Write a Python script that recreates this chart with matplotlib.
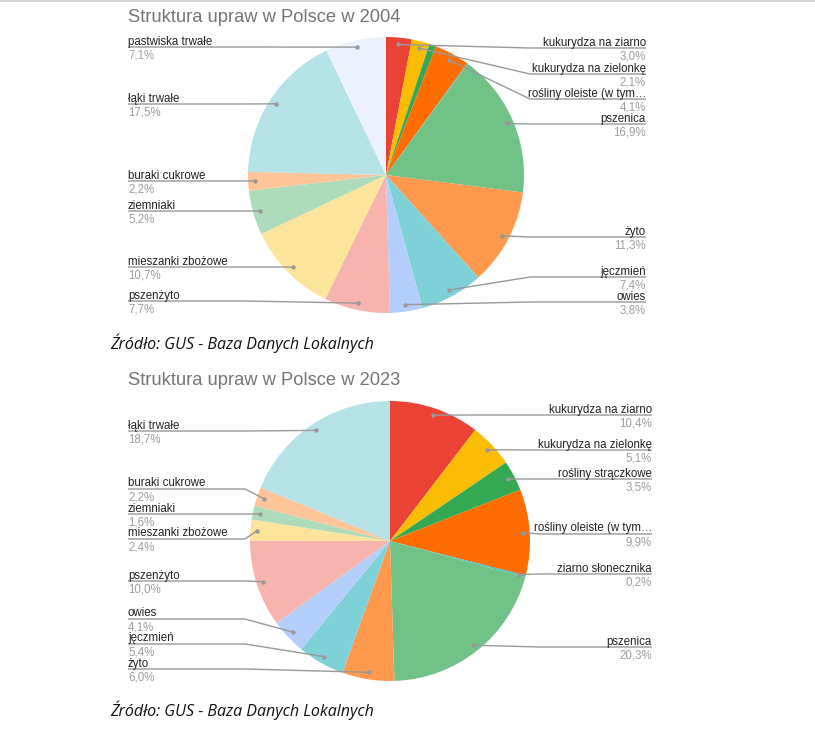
import numpy as np
import matplotlib
matplotlib.use("Agg")
import matplotlib.pyplot as plt

W, H = 815, 735

crops = ["kukurydza na ziarno", "kukurydza na zielonkę", "rośliny strączkowe",
         "rośliny oleiste (w tym…", "ziarno słonecznika", "pszenica", "żyto",
         "jęczmień", "owies", "pszenżyto", "mieszanki zbożowe", "ziemniaki",
         "buraki cukrowe", "łąki trwałe", "pastwiska trwałe"]

colors = ["#EA4335", "#FBBC04", "#34A853", "#FF6D01", "#46BDC6", "#71C287",
          "#FF994D", "#7ED1D7", "#B3CEFB", "#F7B4AE", "#FDE49B", "#AEDCBA",
          "#FFC599", "#B5E3E8", "#ECF2FD"]

share_2004 = [3.0, 2.1, 0.8, 4.1, 0.1, 16.9, 11.3, 7.4, 3.8, 7.7, 10.7, 5.2, 2.2, 17.5, 7.1]
share_2023 = [10.4, 5.1, 3.5, 9.9, 0.2, 20.3, 6.0, 5.4, 4.1, 10.0, 2.4, 1.6, 2.2, 18.7, 0.0]

# which slices get a label, and the pixel row of each label's underline
label_y_2004 = {0: 48, 1: 74, 3: 99, 5: 124, 6: 237, 7: 277, 8: 302,
                9: 301, 10: 267, 11: 211, 12: 181, 13: 104, 14: 47}
label_y_2023 = {0: 415, 1: 450, 2: 479, 3: 534, 4: 574, 5: 647, 6: 669,
                7: 644, 8: 619, 9: 581, 10: 539, 11: 514, 12: 489, 13: 431}

charts = [
    dict(title="Struktura upraw w Polsce w 2004", values=share_2004, labels=label_y_2004,
         center=(386, 175), radius=138, title_y=17, src_y=343, x_right=646, bend_r=530),
    dict(title="Struktura upraw w Polsce w 2023", values=share_2023, labels=label_y_2023,
         center=(390, 541), radius=140, title_y=380, src_y=710, x_right=652, bend_r=540),
]

FONT = "Liberation Sans"
LINE = "#999999"


def py(y):
    # pixel row (top-down) -> data y (bottom-up)
    return H - y


fig = plt.figure(figsize=(W / 100, H / 100), dpi=100)
ax = fig.add_axes([0, 0, 1, 1])

for ch in charts:
    vals = np.array(ch["values"], dtype=float)
    keep = vals > 0
    cx, cy = ch["center"]
    r = ch["radius"]
    ax.pie(vals[keep], colors=[c for c, k in zip(colors, keep) if k],
           center=(cx, py(cy)), radius=r, startangle=90, counterclock=False,
           wedgeprops=dict(linewidth=0))

    frac = vals / vals.sum()
    start = np.cumsum(frac) - frac
    midf = start + frac / 2
    mid = midf * 2 * np.pi

    for i, uy in ch["labels"].items():
        dx = cx + 0.95 * r * np.sin(mid[i])
        dy = cy - 0.95 * r * np.cos(mid[i])
        pct = f"{vals[i]:.1f}%".replace(".", ",")
        if midf[i] < 0.5:
            bx = max(ch["bend_r"], dx)
            xs = [dx, bx, ch["x_right"]]
            ys = [dy, uy, uy]
            tx, ha = ch["x_right"], "right"
        else:
            bx = min(245, dx)
            xs = [128, bx, dx]
            ys = [uy, uy, dy]
            tx, ha = 128, "left"
        ax.plot(xs, [py(v) for v in ys], color=LINE, lw=1, solid_capstyle="butt")
        ax.plot(dx, py(dy), "o", color=LINE, ms=3.2, mec="none")
        ax.text(tx, py(uy - 2.5), crops[i], ha=ha, va="baseline", fontsize=8.3,
                family=FONT, color="#222222")
        ax.text(tx, py(uy + 2.5), pct, ha=ha, va="top", fontsize=8.3,
                family=FONT, color="#9e9e9e")

    ax.text(128, py(ch["title_y"]), ch["title"], ha="left", va="center",
            fontsize=13.2, family=FONT, color="#757575")
    ax.text(110, py(ch["src_y"]), "Źródło: GUS - Baza Danych Lokalnych", ha="left",
            va="center", fontsize=11.5, family="Open Sans", style="italic", color="#111111")

ax.plot([0, W], [py(0.5), py(0.5)], color="#cccccc", lw=1.2)

ax.set_xlim(0, W)
ax.set_ylim(0, H)
ax.set_aspect("auto")
ax.axis("off")

fig.savefig("out.png", dpi=100)
